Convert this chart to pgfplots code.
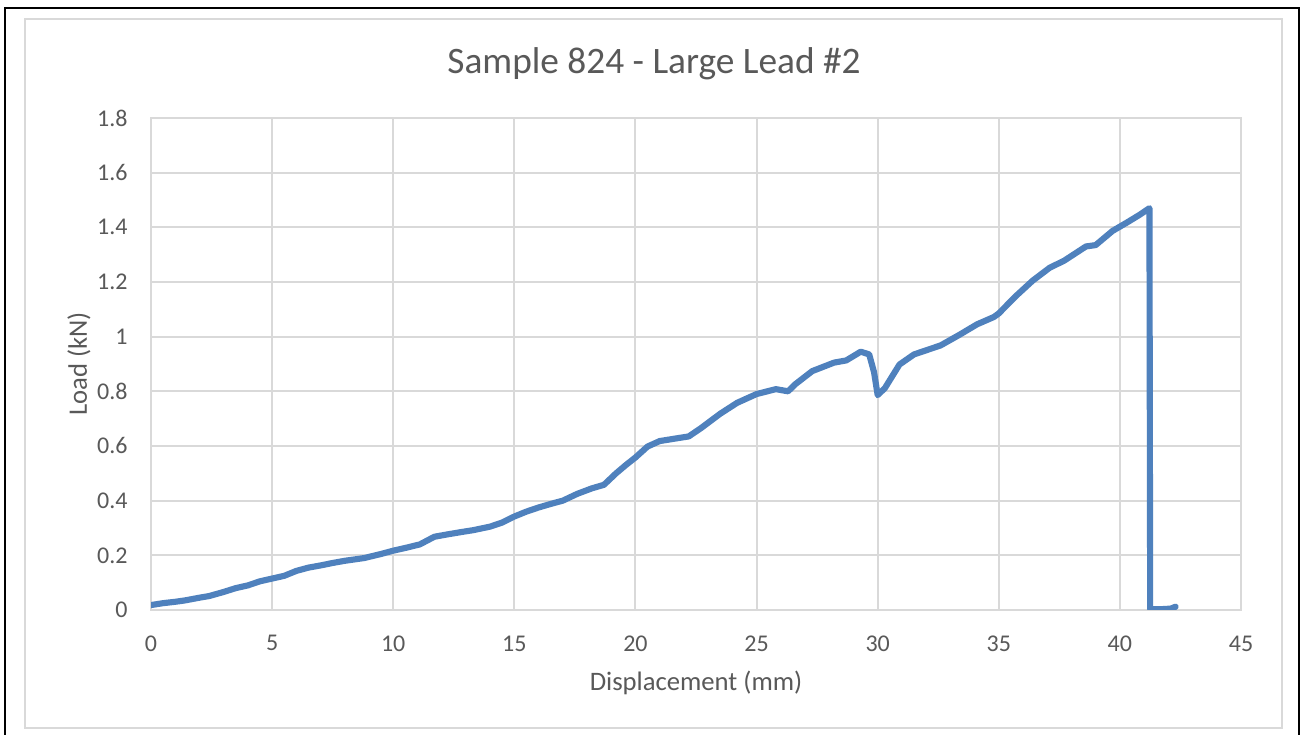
\documentclass[border=0pt]{standalone}
\usepackage{pgfplots}
\pgfplotsset{compat=1.18}
\usepackage{fontspec}
\setmainfont{Carlito}
\definecolor{gridgray}{HTML}{D9D9D9}
\definecolor{txtgray}{HTML}{595959}
\definecolor{lineblue}{HTML}{4F81BD}
\begin{document}
\begin{tikzpicture}
\path[use as bounding box] (0,0) rectangle (488.625bp,275.625bp);
\fill[white] (0,0) rectangle (488.625bp,275.625bp);
\draw[black, line width=0.75bp] (1.69bp,-5bp) -- (1.69bp,272.6bp) -- (487.1bp,272.6bp) -- (487.1bp,-5bp);
\draw[gridgray, line width=0.75bp] (9.375bp,2.625bp) rectangle (480.75bp,268.5bp);
\begin{axis}[
  at={(56.625bp,46.875bp)}, anchor=south west,
  scale only axis, width=408.75bp, height=184.5bp,
  xmin=0, xmax=45, ymin=0, ymax=1.8,
  xtick={0,5,...,45},
  ytick={0,0.2,0.4,0.6,0.8,1,1.2,1.4,1.6,1.8},
  grid=major,
  major grid style={draw=gridgray, line width=0.75bp},
  axis line style={draw=gridgray, line width=0.75bp},
  major tick length=0pt,
  /pgf/number format/assume math mode=true,
  tick label style={inner sep=0pt, text=txtgray, font=\fontsize{9bp}{10bp}\selectfont},
  xticklabel style={yshift=-9.4bp},
  yticklabel style={xshift=-8.6bp},
  xlabel={Displacement (mm)},
  ylabel={Load (kN)},
  xlabel style={at={(axis description cs:0.5,-0.148)}, anchor=center, text=txtgray, font=\fontsize{10bp}{12bp}\selectfont},
  ylabel style={at={(axis description cs:-0.066,0.5)}, anchor=center, text=txtgray, font=\fontsize{10bp}{12bp}\selectfont},
  title={Sample 824 - Large Lead \#2},
  title style={at={(axis description cs:0.4615,1.077)}, anchor=center, text=txtgray, font=\fontsize{14bp}{16bp}\selectfont},
]
\addplot[lineblue, line width=2.3bp, line join=round, line cap=round] coordinates {
(0,0.018) (0.5,0.025) (1.0,0.030) (1.4,0.035) (2.0,0.045) (2.4,0.051)
(3.0,0.066) (3.5,0.080) (4.0,0.090) (4.5,0.105) (5.0,0.115) (5.5,0.125)
(6.0,0.143) (6.5,0.155) (7.0,0.163) (7.5,0.172) (8.0,0.180) (8.8,0.190)
(9.5,0.205) (10.0,0.217) (10.5,0.227) (11.1,0.240) (11.7,0.268) (12.2,0.276)
(12.8,0.285) (13.3,0.292) (14.0,0.305) (14.5,0.320) (15.0,0.342) (15.5,0.360)
(16.0,0.375) (16.5,0.388) (17.0,0.400) (17.6,0.425) (18.2,0.445) (18.7,0.458)
(19.2,0.500) (19.6,0.530) (20.0,0.558) (20.5,0.598) (21.0,0.618) (21.7,0.628)
(22.2,0.635) (22.7,0.665) (23.5,0.718) (24.2,0.758) (25.0,0.790) (25.8,0.808)
(26.3,0.800) (26.6,0.826) (27.3,0.874) (28.2,0.905) (28.7,0.913) (29.3,0.945)
(29.65,0.935) (29.85,0.870) (30.0,0.786) (30.3,0.812) (30.9,0.898) (31.5,0.935)
(32.1,0.953) (32.6,0.968) (33.4,1.008) (34.1,1.045) (34.8,1.072) (35.0,1.085)
(35.7,1.148) (36.4,1.205) (37.1,1.252) (37.7,1.278) (38.6,1.330) (39.0,1.335)
(39.7,1.387) (40.3,1.418) (40.8,1.445) (41.22,1.470) (41.25,0.003) (41.7,0.003)
(42.1,0.005) (42.3,0.012)
};
\end{axis}
\end{tikzpicture}
\end{document}
